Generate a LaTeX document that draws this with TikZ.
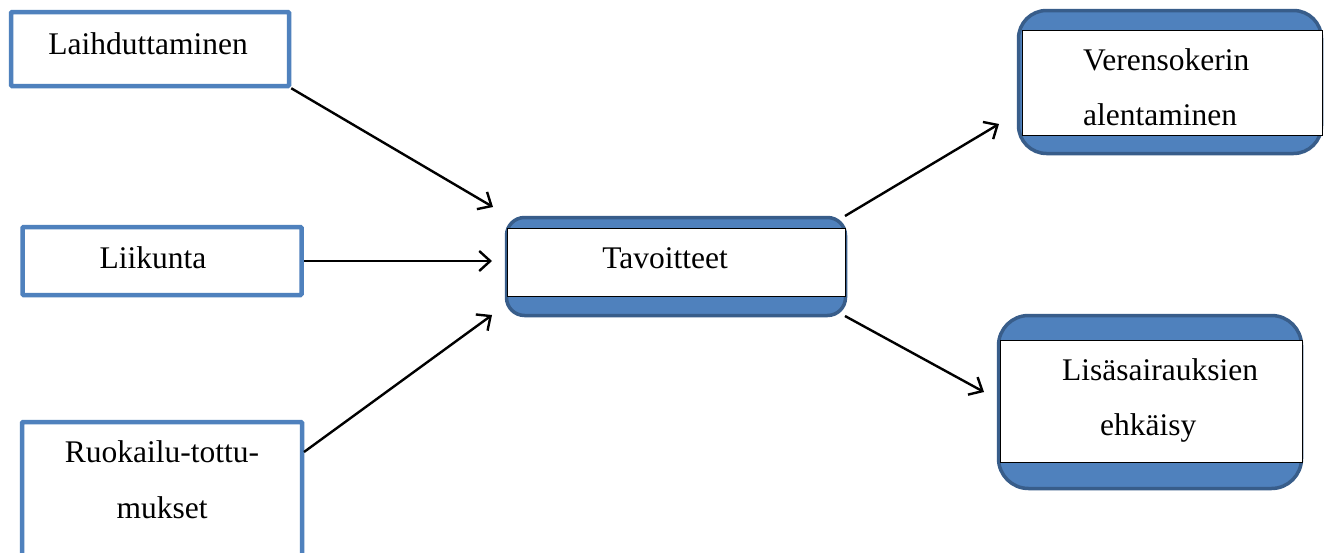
\documentclass[tikz,border=0pt]{standalone}
\usepackage{fontspec}
\setmainfont{Liberation Serif}
\usetikzlibrary{arrows.meta}
\definecolor{boxblue}{HTML}{4F81BD}
\definecolor{boxdark}{HTML}{385D8A}
\begin{document}
\begin{tikzpicture}[x=1pt,y=-1pt,
  inbox/.style={draw=boxblue, line width=4.5pt, rounded corners=1pt, inner sep=0pt},
  goalbox/.style={draw=boxdark, line width=3.5pt, fill=boxblue, inner sep=0pt},
  band/.style={draw=black, line width=1pt, fill=white},
  lbl/.style={inner sep=0pt, font=\fontsize{31.5}{56}\selectfont},
  conn/.style={-{Straight Barb[length=11pt,width=20pt,line width=2.4pt]}, line width=2.4pt}]
\clip (0,0) rectangle (1330,552);
\fill[white] (0,0) rectangle (1330,552);
% input boxes
\node[inbox, minimum width=278pt, minimum height=74pt] (lai) at (150,49) {};
\node[inbox, minimum width=279pt, minimum height=68pt] (lii) at (162,261) {};
\node[inbox, minimum width=280pt, minimum height=158pt] (ruo) at (162,501) {};
% goal boxes
\node[goalbox, rounded corners=18pt, minimum width=339pt, minimum height=98pt] (tav) at (676,266.5) {};
\draw[band] (507,228) rectangle (845,296);
\node[goalbox, rounded corners=28pt, minimum width=303pt, minimum height=143pt] (ver) at (1170,82) {};
\draw[band] (1022,30) rectangle (1322,135);
\node[goalbox, rounded corners=30pt, minimum width=303pt, minimum height=173pt] (lis) at (1150,402) {};
\draw[band] (1000,340) rectangle (1302,462);
% labels
\node[lbl, anchor=base] (tlai) at (148,54) {Laihduttaminen};
\node[lbl, anchor=base] (tlii) at (153,268) {Liikunta};
\node[lbl, anchor=base] (truo1) at (162,462) {Ruokailu-tottu-};
\node[lbl, anchor=base] (truo2) at (162,518) {mukset};
\node[lbl, anchor=base] (ttav) at (665,268) {Tavoitteet};
\node[lbl, anchor=base west] (tver1) at (1083,70) {Verensokerin};
\node[lbl, anchor=base west] (tver2) at (1083,125) {alentaminen};
\node[lbl, anchor=base west] (tlis1) at (1062,380) {Lisäsairauksien};
\node[lbl, anchor=base west] (tlis2) at (1100,435) {ehkäisy};
% connector end points
\coordinate (e1) at (493,207);
\coordinate (s2) at (304,261);
\coordinate (e2) at (492,261);
\coordinate (s3) at (304,452);
\coordinate (e3) at (492,315);
\coordinate (s4) at (845,216);
\coordinate (e4) at (999,124);
\coordinate (s5) at (845,316);
\coordinate (e5) at (984,392);
\draw[conn] (lai.south east) -- (e1);
\draw[conn] (s2) -- (e2);
\draw[conn] (s3) -- (e3);
\draw[conn] (s4) -- (e4);
\draw[conn] (s5) -- (e5);
\end{tikzpicture}
\end{document}
